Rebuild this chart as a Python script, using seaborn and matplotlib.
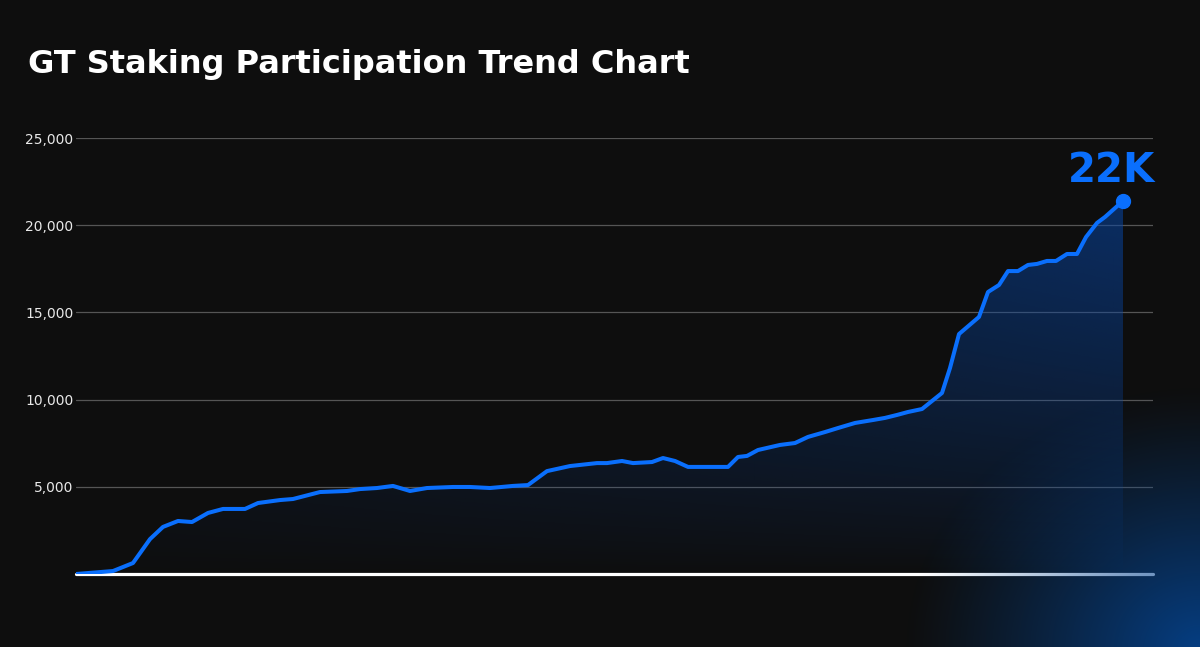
import numpy as np
import pandas as pd
import matplotlib
matplotlib.use("Agg")
import matplotlib.pyplot as plt
import seaborn as sns

# days since start, staked GT participation
days = [0, 37, 57, 74, 87, 102, 116, 132, 147, 169, 182, 204, 217, 244, 271, 284,
        301, 317, 334, 351, 377, 394, 414, 437, 452, 471, 494, 521, 531, 546, 557,
        576, 587, 599, 612, 652, 662, 671, 682, 704, 719, 732, 749, 762, 779, 797,
        809, 821, 832, 846, 866, 874, 883, 903, 912, 923, 932, 942, 952, 961, 971,
        980, 991, 1001, 1010, 1021, 1029, 1047]
staked = [0, 170, 630, 2000, 2700, 3040, 2980, 3500, 3730, 3730, 4070, 4240, 4300,
          4700, 4760, 4870, 4930, 5050, 4760, 4930, 4990, 4990, 4930, 5050, 5100,
          5900, 6190, 6360, 6360, 6480, 6360, 6420, 6650, 6480, 6140, 6140, 6710,
          6770, 7110, 7400, 7510, 7860, 8140, 8370, 8660, 8830, 8950, 9120, 9290,
          9460, 10380, 11810, 13760, 14740, 16170, 16570, 17370, 17370, 17720,
          17780, 17950, 17950, 18350, 18350, 19320, 20130, 20470, 21390]
yticks = [5000, 10000, 15000, 20000, 25000]
title = "GT Staking Participation Trend Chart"
peak_label = "22K"

df = pd.DataFrame({"day": days, "staked": staked})

bg = "#0e0e0e"
blue = "#0a6ffd"

sns.set_style("dark", rc={"axes.facecolor": bg, "figure.facecolor": bg,
                          "axes.edgecolor": bg, "grid.color": "#555555"})
plt.rcParams["font.family"] = ["DejaVu Sans"]

fig = plt.figure(figsize=(12, 6.47), dpi=100)
ax = fig.add_axes([76/1200, 1-574/647, 1077/1200, 436/647])

# gradient under the curve
poly = ax.fill_between(df["day"], df["staked"], 0, color="none", lw=0)
gy, gx = np.mgrid[0:1:200j, 0:1:300j]
grad = np.zeros((200, 300, 4))
grad[..., 0] = 8/255
grad[..., 1] = 70/255
grad[..., 2] = 165/255
grad[..., 3] = 0.58 * (gy/0.86).clip(0, 1)**0.8 * (0.35 + 0.65*gx)
im = ax.imshow(grad, extent=[0, 1077, 0, 25000], origin="lower", aspect="auto", zorder=1)
im.set_clip_path(poly.get_paths()[0], transform=ax.transData)

sns.lineplot(data=df, x="day", y="staked", color=blue, lw=2.9, ax=ax, zorder=3)
ax.plot(days[-1], staked[-1], "o", color=blue, ms=10, zorder=4, clip_on=False)
ax.annotate(peak_label, (days[-1], staked[-1]), xytext=(-8, 14), textcoords="offset points",
            ha="center", va="baseline", color=blue, fontsize=29, fontweight="bold")

ax.axhline(0, color="white", lw=2.3, zorder=2, clip_on=False)
ax.set_xlim(0, 1077)
ax.set_ylim(0, 25000)
ax.set_yticks(yticks)
ax.set_yticklabels([f"{t:,}" for t in yticks], color="#e8e8e8", fontsize=10)
ax.set_xticks([])
ax.tick_params(axis="y", length=0, pad=2)
ax.grid(axis="y", color="#555555", lw=0.9)
ax.set_xlabel("")
ax.set_ylabel("")
for s in ax.spines.values():
    s.set_visible(False)

fig.text(28/1200, 1-65/647, title, color="white", fontsize=23, fontweight="bold", va="center")

# blue glow bottom right
gax = fig.add_axes([0, 0, 1, 1], zorder=5)
gax.axis("off")
py, px = np.mgrid[0:647, 0:1200]
d = np.sqrt(((px - 1200.0)/1.12)**2 + (py - 650.0)**2)
t = (1 - d/265).clip(0, 1)
glow = np.zeros((647, 1200, 4))
glow[..., 0] = 4/255
glow[..., 1] = 68/255
glow[..., 2] = 145/255
glow[..., 3] = 0.9 * t**1.15
gax.imshow(glow, extent=[0, 1200, 647, 0], aspect="auto")
gax.set_xlim(0, 1200)
gax.set_ylim(647, 0)

fig.savefig("out.png", facecolor=bg)
